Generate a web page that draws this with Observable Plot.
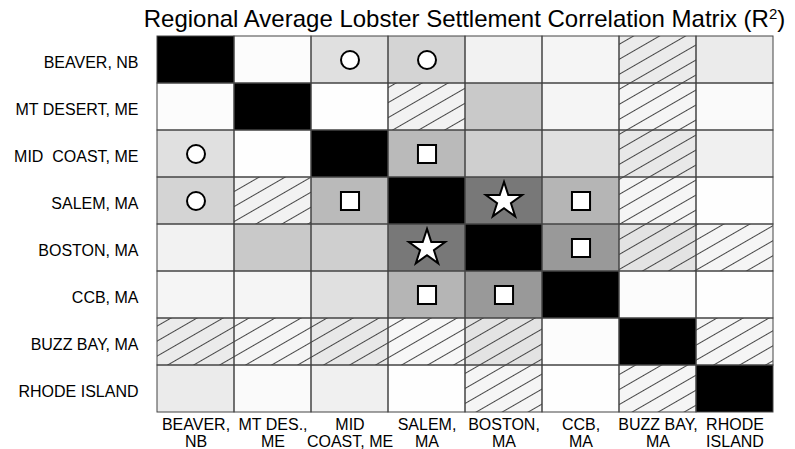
<!DOCTYPE html>
<html>
<head>
<meta charset="utf-8">
<script src="https://cdn.jsdelivr.net/npm/d3@7"></script>
<script src="https://cdn.jsdelivr.net/npm/@observablehq/plot@0.6"></script>
<style>
  html, body { margin: 0; padding: 0; background: #fff; }
  body { width: 795px; height: 449px; position: relative; overflow: hidden; font-family: "Liberation Sans", Arial, sans-serif; }
  #title { position: absolute; left: 134px; right: 0; top: 7px; text-align: center; font-size: 24px; line-height: 1; white-space: nowrap; color: #000; }
  #title sup { font-size: 15px; vertical-align: 8px; line-height: 0; }
  #chart { position: absolute; left: 0; top: 34px; }
</style>
</head>
<body>
<div id="title">Regional Average Lobster Settlement Correlation Matrix (R<sup>2</sup>)</div>
<div id="chart"></div>
<script>
// Row (y) labels, top to bottom
const rowLabels = ["BEAVER, NB", "MT DESERT, ME", "MID\u00a0 COAST, ME", "SALEM, MA", "BOSTON, MA", "CCB, MA", "BUZZ BAY, MA", "RHODE ISLAND"];
// Column (x) tick labels, left to right
const colLabels = ["BEAVER,\nNB", "MT DES.,\nME", "MID\nCOAST, ME", "SALEM,\nMA", "BOSTON,\nMA", "CCB,\nMA", "BUZZ BAY,\nMA", "RHODE\nISLAND"];

// R² values (estimated from shading), one array per row
const beaver    = [1.00, 0.01, 0.12, 0.17, 0.05, 0.04, 0.08, 0.08];
const mtDesert  = [0.01, 1.00, 0.005, 0.05, 0.21, 0.04, 0.04, 0.02];
const midCoast  = [0.12, 0.005, 1.00, 0.27, 0.19, 0.12, 0.09, 0.06];
const salem     = [0.17, 0.05, 0.27, 1.00, 0.53, 0.29, 0.04, 0.005];
const boston    = [0.05, 0.21, 0.19, 0.53, 1.00, 0.40, 0.11, 0.04];
const ccb       = [0.04, 0.04, 0.12, 0.29, 0.40, 1.00, 0.01, 0.005];
const buzzBay   = [0.08, 0.04, 0.09, 0.03, 0.11, 0.01, 1.00, 0.04];
const rhode     = [0.08, 0.02, 0.06, 0.005, 0.04, 0.005, 0.04, 1.00];
const r2Rows = [beaver, mtDesert, midCoast, salem, boston, ccb, buzzBay, rhode];

// Negative correlations (hatched cells): [row, col]
const negative = [[0,6],[1,3],[1,6],[2,6],[3,1],[3,6],[4,6],[4,7],[6,0],[6,1],[6,2],[6,3],[6,4],[6,7],[7,4],[7,6]];
// Significance markers: [row, col]
const circles = [[0,2],[0,3],[2,0],[3,0]];
const squares = [[2,3],[3,2],[3,5],[5,3],[4,5],[5,4]];
const stars   = [[3,4],[4,3]];

const cells = [];
r2Rows.forEach((vals, i) => vals.forEach((v, j) => cells.push({row: rowLabels[i], col: colLabels[j], r2: v})));
const toCell = ([i, j]) => ({row: rowLabels[i], col: colLabels[j]});

const chart = Plot.plot({
  width: 795,
  height: 415,
  marginTop: 2,
  marginBottom: 37,
  marginLeft: 153,
  marginRight: 19,
  style: {fontFamily: "'Liberation Sans', Arial, sans-serif", fontSize: "16px", color: "#000", background: "#fff", overflow: "visible"},
  x: {domain: colLabels, padding: 0, axis: null, label: null},
  y: {domain: rowLabels, padding: 0, axis: null, label: null},
  color: {type: "linear", domain: [0, 1], range: ["#ffffff", "#000000"], interpolate: "rgb"},
  marks: [
    Plot.cell(cells, {x: "col", y: "row", fill: "r2"}),
    Plot.cell(negative.map(toCell), {x: "col", y: "row", fill: "url(#hatch)"}),
    Plot.cell(cells, {x: "col", y: "row", fill: "none", stroke: "#444", strokeWidth: 1}),
    Plot.dot(circles.map(toCell), {x: "col", y: "row", symbol: "circle", r: 9, fill: "white", stroke: "black", strokeWidth: 2}),
    Plot.dot(squares.map(toCell), {x: "col", y: "row", symbol: "square", r: 10.2, fill: "white", stroke: "black", strokeWidth: 2}),
    Plot.dot(stars.map(toCell), {x: "col", y: "row", symbol: "star", r: 11.4, fill: "white", stroke: "black", strokeWidth: 2}),
    Plot.axisY({tickSize: 0, tickPadding: 15, fontSize: 16, dy: 3, label: null}),
    Plot.axisX({tickSize: 0, tickPadding: 6, fontSize: 16, lineHeight: 1.05, label: null})
  ]
});

d3.select(chart).insert("defs", ":first-child").html(
  '<pattern id="hatch" patternUnits="userSpaceOnUse" width="13" height="13" patternTransform="rotate(-30)">' +
  '<line x1="-1" y1="6.5" x2="14" y2="6.5" stroke="#333" stroke-width="0.9"></line></pattern>'
);

document.getElementById("chart").appendChild(chart);
</script>
</body>
</html>
